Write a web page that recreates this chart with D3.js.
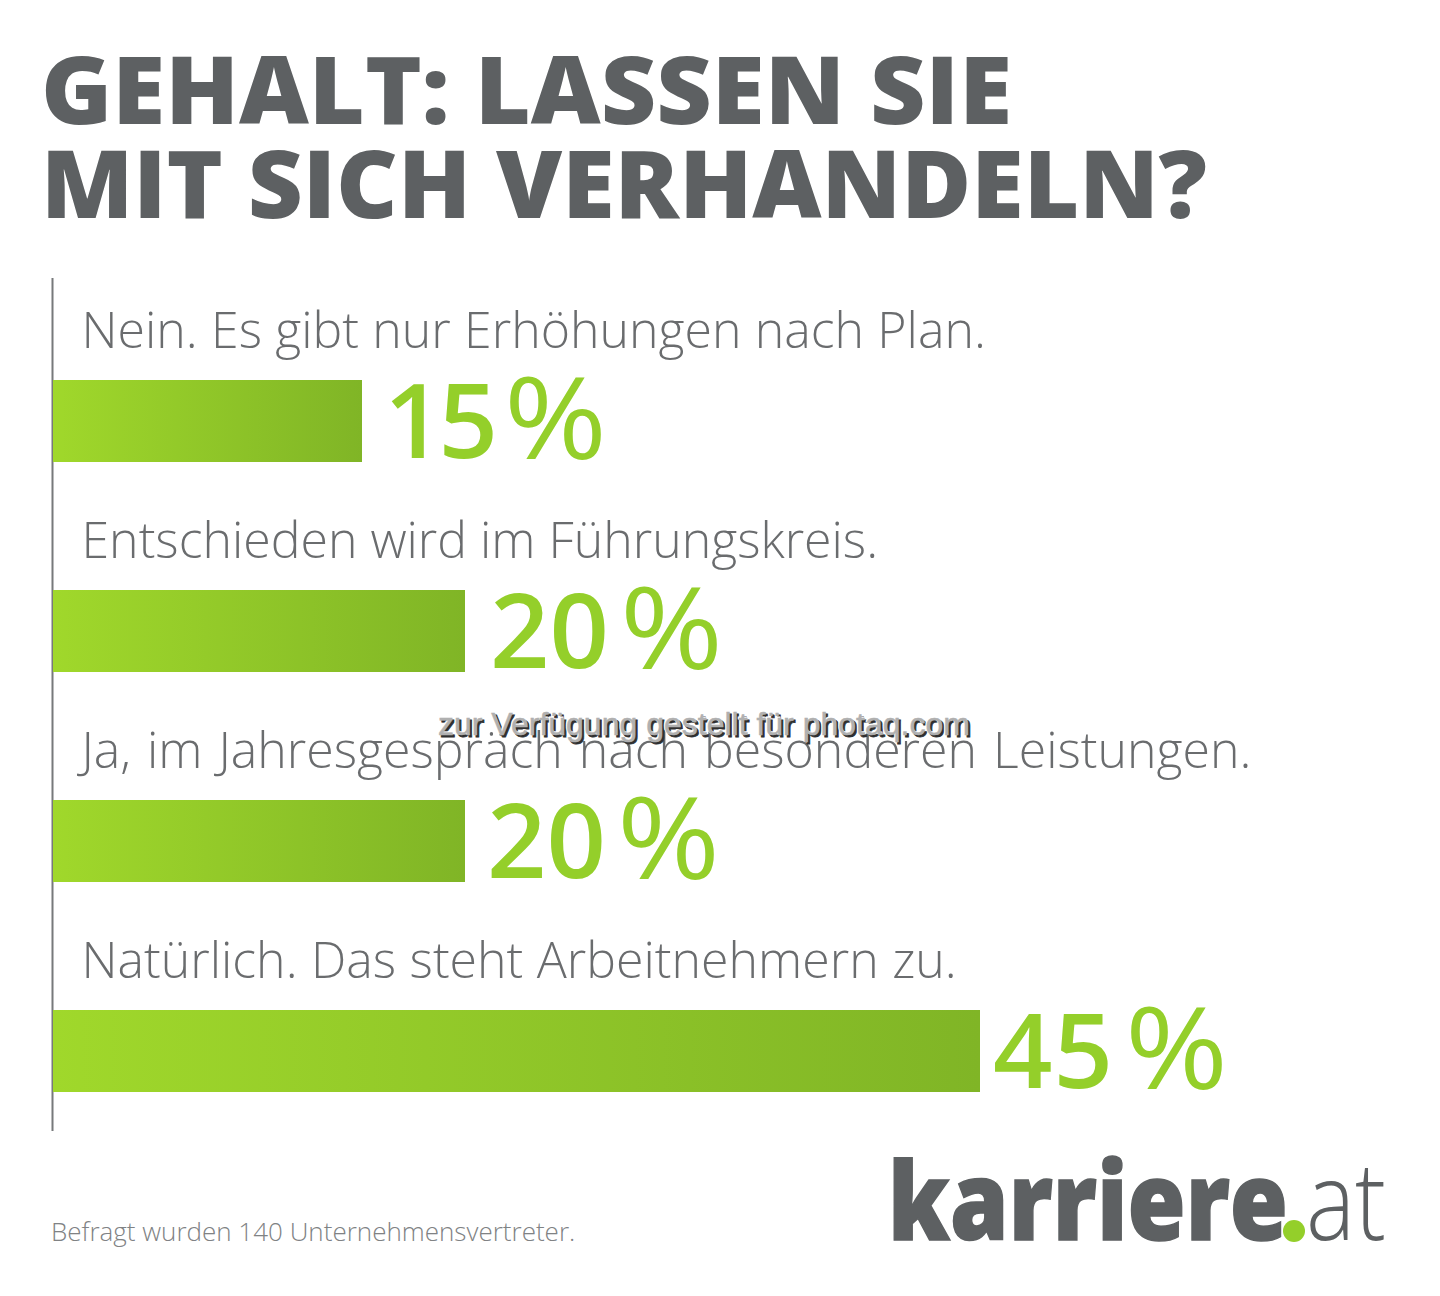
<!DOCTYPE html>
<html>
<head>
<meta charset="utf-8">
<script src="https://cdn.jsdelivr.net/npm/d3@7"></script>
<style>
  html, body { margin: 0; padding: 0; background: #fff; }
  svg { display: block; }
  text { font-family: "Open Sans", sans-serif; }
</style>
</head>
<body>
<script>
const titleLines = ["GEHALT: LASSEN SIE", "MIT SICH VERHANDELN?"];
const categories = [
  "Nein. Es gibt nur Erhöhungen nach Plan.",
  "Entschieden wird im Führungskreis.",
  "Ja, im Jahresgespräch nach besonderen Leistungen.",
  "Natürlich. Das steht Arbeitnehmern zu."
];
const values = [15, 20, 20, 45];
const footnote = "Befragt wurden 140 Unternehmensvertreter.";
const watermark = "zur Verfügung gestellt für photaq.com";

// small per row corrections, the original labels were not set quite evenly
const titleWidths = [971, 1166];
const labelWordGap = [0.3, 0, 3, 0.5];
const valueGap = [22, 25, 22, 13];
const digitTrack = [-5, 0, 0, 1];

const grey = "#5d6062", green = "#94cf2a";

const svg = d3.select("body").append("svg").attr("width", 1440).attr("height", 1296);

const x = d3.scaleLinear().domain([0, 45]).range([53, 980]);
const y = d3.scaleBand().domain(categories).range([296, 1136]);
const barH = 82;

const grad = svg.append("defs").append("linearGradient").attr("id", "bar");
grad.append("stop").attr("offset", "0%").attr("stop-color", "#a0d82b");
grad.append("stop").attr("offset", "100%").attr("stop-color", "#80b526");

// title
svg.selectAll(".title").data(titleLines).enter().append("text")
  .attr("class", "title")
  .attr("x", 41)
  .attr("y", (d, i) => 124 + i * 94)
  .attr("font-size", 94)
  .attr("font-weight", 800)
  .attr("textLength", (d, i) => titleWidths[i])
  .attr("lengthAdjust", "spacingAndGlyphs")
  .attr("fill", grey)
  .text(d => d);

// baseline
svg.append("line").attr("x1", 52.5).attr("x2", 52.5).attr("y1", 278).attr("y2", 1131)
  .attr("stroke", "#77797b").attr("stroke-width", 2);

// rows
const row = svg.selectAll(".row").data(categories).enter().append("g")
  .attr("class", "row")
  .attr("transform", d => `translate(0,${y(d)})`);

row.append("text")
  .attr("x", 81.5)
  .attr("y", 52)
  .attr("font-size", 50)
  .attr("font-weight", 300)
  .attr("word-spacing", (d, i) => labelWordGap[i])
  .attr("fill", "#6a6c6e")
  .text(d => d);

row.append("rect")
  .attr("x", x(0))
  .attr("y", 84)
  .attr("width", (d, i) => x(values[i]) - x(0))
  .attr("height", barH)
  .attr("fill", "url(#bar)");

const digits = row.append("text")
  .attr("x", (d, i) => x(values[i]) + valueGap[i])
  .attr("y", 162)
  .attr("font-size", 104)
  .attr("font-weight", 600)
  .attr("letter-spacing", (d, i) => digitTrack[i])
  .attr("fill", green)
  .text((d, i) => values[i]);

// the percent sign is wider than the font's, so it is set apart from the digits
row.append("text")
  .attr("x", function(d, i) { return x(values[i]) + valueGap[i] + digits.nodes()[i].getComputedTextLength() + 11; })
  .attr("y", 163)
  .attr("font-size", 114)
  .attr("font-weight", 500)
  .attr("textLength", 103)
  .attr("lengthAdjust", "spacingAndGlyphs")
  .attr("fill", green)
  .text("%");

// footnote
svg.append("text").attr("x", 51).attr("y", 1241).attr("font-size", 26).attr("font-weight", 300)
  .attr("fill", "#808284").text(footnote);

// logo
svg.append("text").attr("x", 888).attr("y", 1240).attr("font-size", 108).attr("font-weight", 800)
  .attr("textLength", 400).attr("lengthAdjust", "spacingAndGlyphs")
  .attr("stroke", grey).attr("stroke-width", 1.5)
  .attr("fill", grey).text("karriere");
svg.append("circle").attr("cx", 1294).attr("cy", 1231).attr("r", 11).attr("fill", green);
svg.append("text").attr("x", 1306).attr("y", 1240).attr("font-size", 108).attr("font-weight", 300)
  .attr("textLength", 80).attr("lengthAdjust", "spacingAndGlyphs")
  .attr("fill", grey).text("at");

// watermark, layers for the embossed look
const wmLayers = [
  { dx: 2, dy: 2, fill: "#2f2f2f", sw: 0.8 },
  { dx: -1, dy: -1, fill: "#ffffff", sw: 0.8 },
  { dx: 0, dy: 0, fill: "#b0b0b0", sw: 0.5 }
];
svg.selectAll(".wm").data(wmLayers).enter().append("text")
  .attr("class", "wm")
  .attr("x", d => 438 + d.dx)
  .attr("y", d => 735 + d.dy)
  .attr("font-size", 32)
  .style("font-family", "'Liberation Sans', Arial, sans-serif")
  .attr("fill", d => d.fill)
  .attr("stroke", d => d.fill)
  .attr("stroke-width", d => d.sw)
  .text(watermark);
</script>
</body>
</html>
